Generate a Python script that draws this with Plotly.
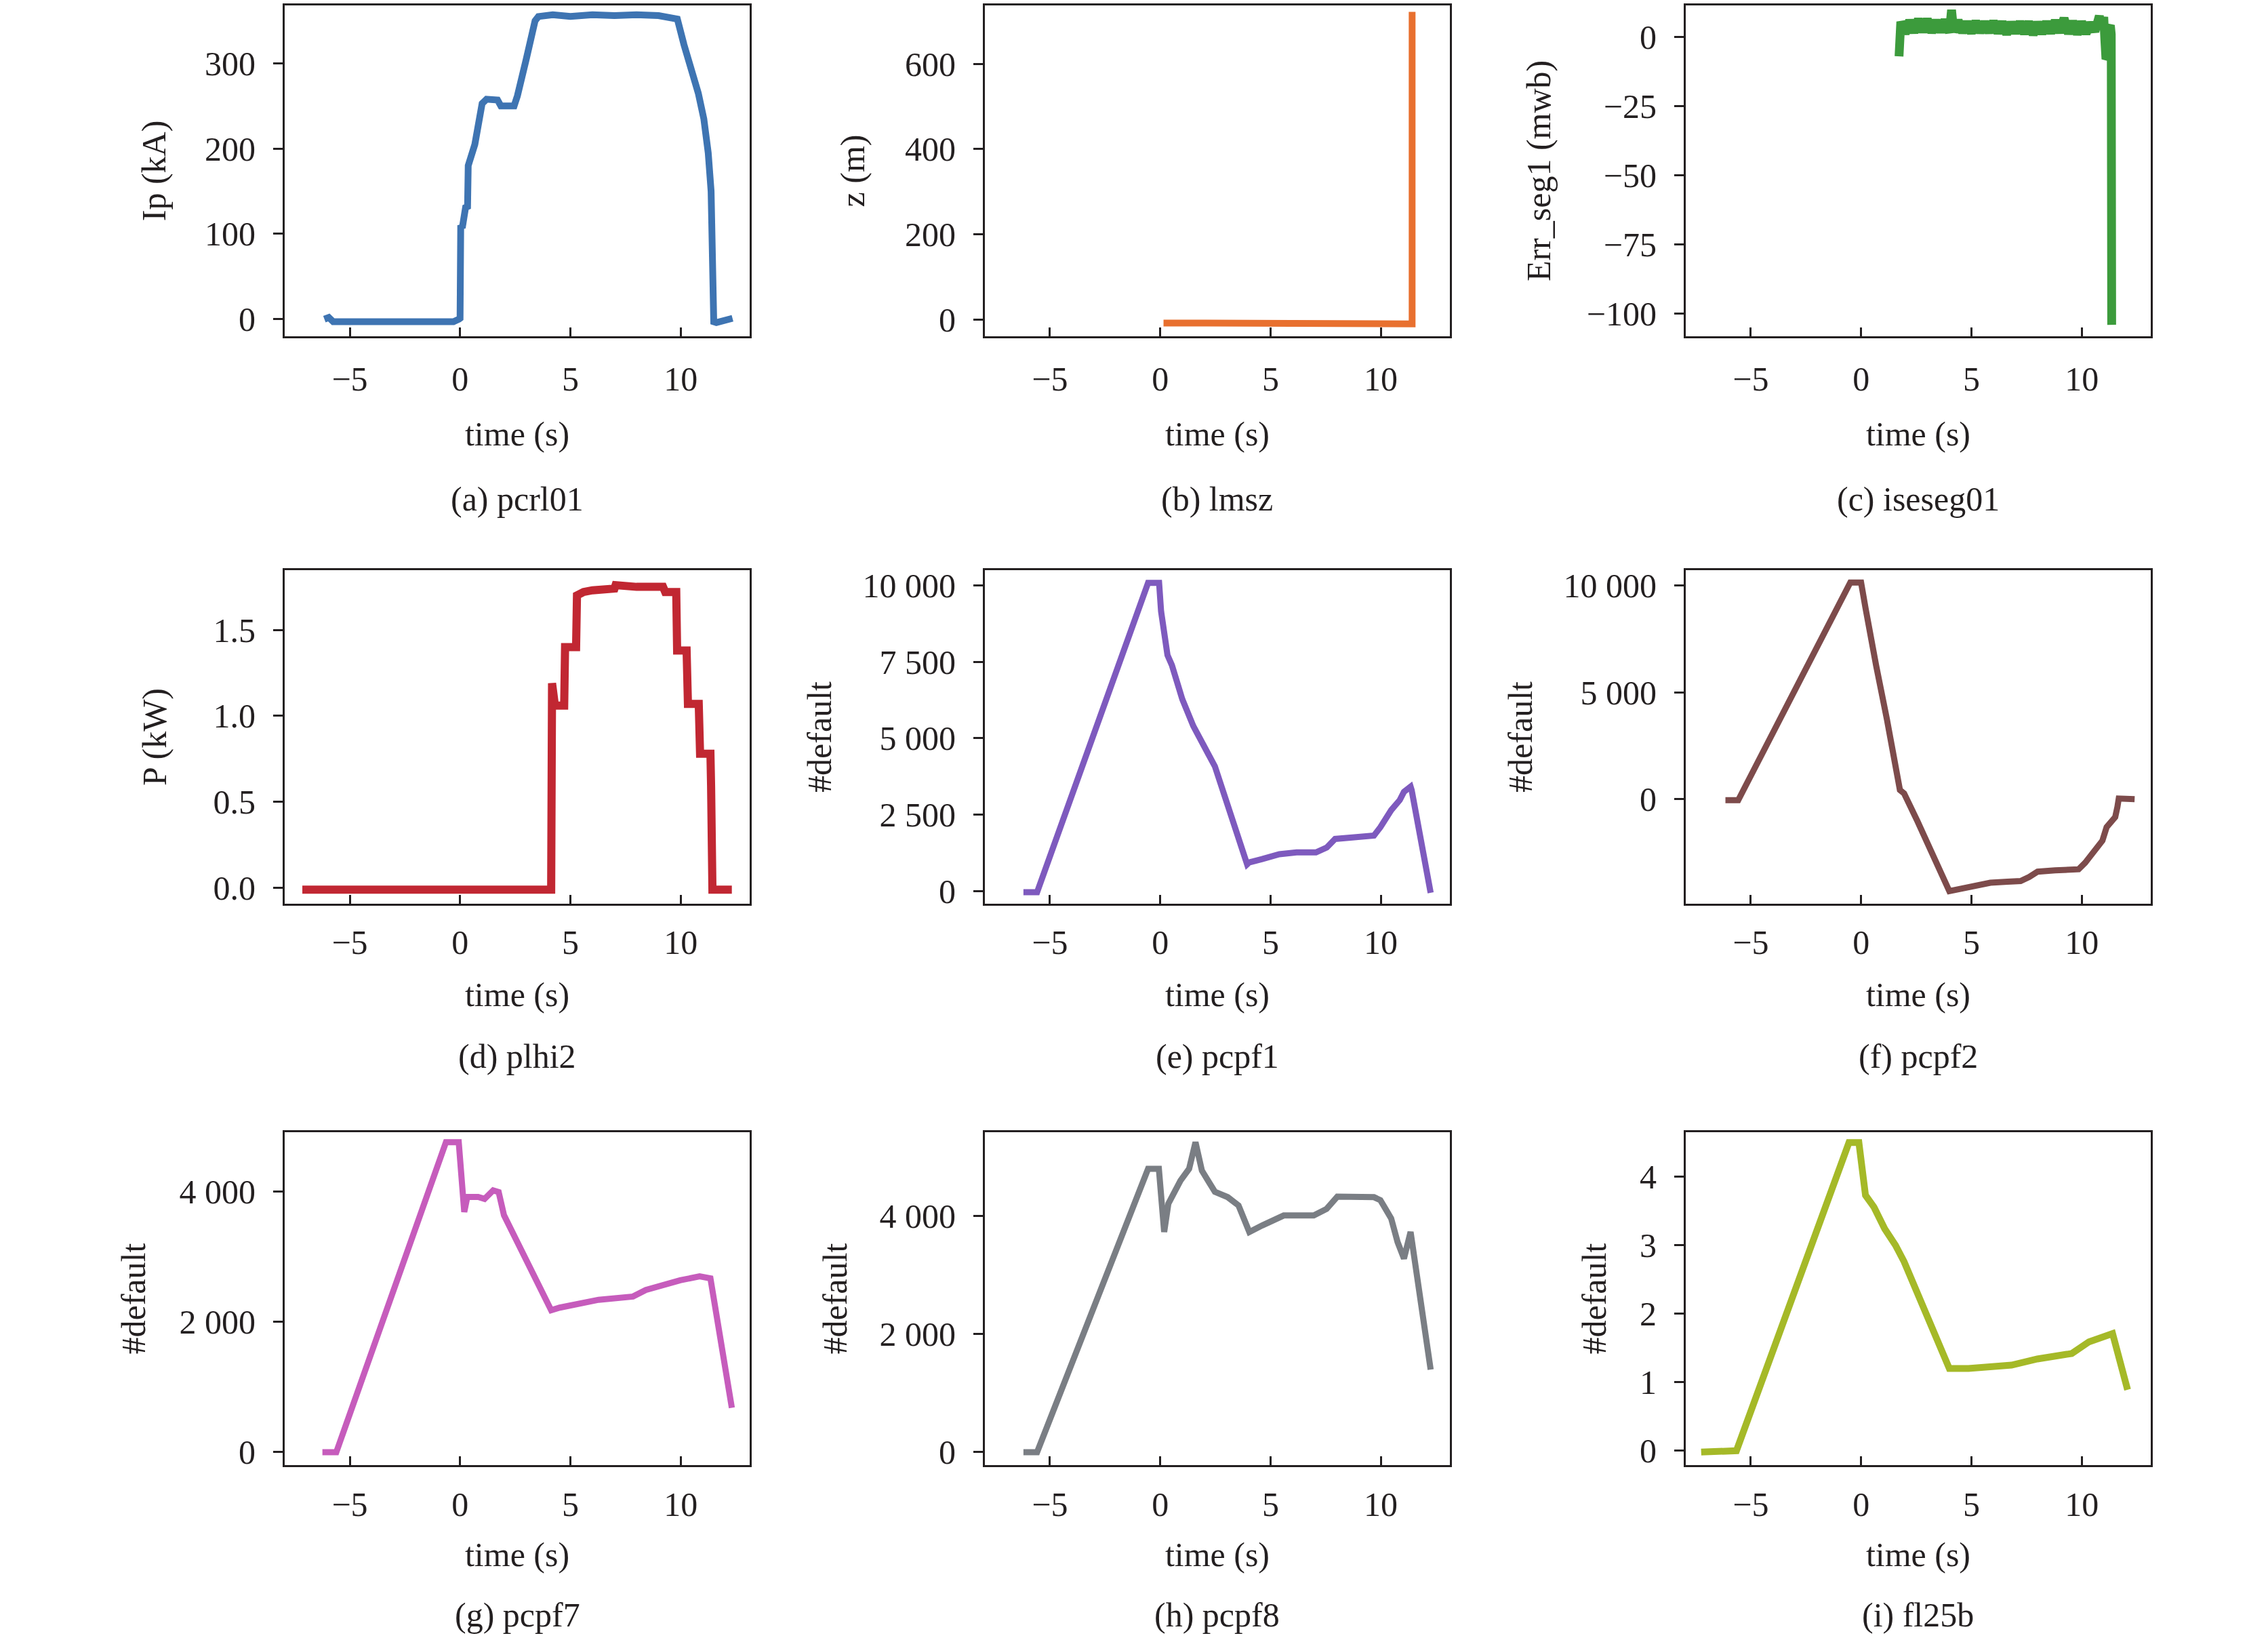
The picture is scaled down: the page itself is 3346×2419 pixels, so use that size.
import plotly.graph_objects as go

# ---------------- data ----------------
a_t = [-6.15, -5.95, -5.75, -5.5, -4.0, -2.5, -1.0, -0.3, -0.05, 0.0, 0.03, 0.1, 0.25, 0.34, 0.37, 0.5, 0.67,
       1.0, 1.2, 1.7, 1.85, 2.45, 2.6, 3.0, 3.4, 3.55, 4.2, 5.0, 6.0, 7.0, 8.0, 9.0, 9.85, 10.15, 10.45,
       10.8, 11.05, 11.25, 11.38, 11.45, 11.5, 11.62, 12.0, 12.35]
a_v = [0, 2, -3, -3, -4, -3, -4, -3, 0, 1, 110, 107, 131, 132, 180, 190, 205,
       253, 258, 257, 250, 250, 262, 305, 350, 355, 357, 355, 357, 356, 357, 356, 352, 322, 295,
       265, 235, 195, 150, 15, -3, -4, -2, 1]

b_t = [0.15, 11.38, 11.42, 11.42]
b_v = [-8, -8, -10, 722]

c_t = [1.72, 1.74, 1.8, 2.0, 2.2, 2.4, 2.6, 2.8, 3.0, 3.2, 3.4, 3.6, 3.8, 4.0, 4.1, 4.2, 4.4, 4.6, 4.8,
       5.0, 5.2, 5.4, 5.6, 5.8, 6.0, 6.2, 6.4, 6.6, 6.8, 7.0, 7.2, 7.4, 7.6, 7.8, 8.0, 8.2, 8.4, 8.6,
       8.8, 9.0, 9.2, 9.4, 9.6, 9.8, 10.0, 10.2, 10.4, 10.6, 10.8, 10.9, 11.0, 11.05, 11.1, 11.18,
       11.22, 11.3, 11.34, 11.36]
c_v = [-7, 3.5, 5.5, 1.2, 6.0, 1.6, 6.5, 1.8, 6.5, 1.6, 6.0, 1.8, 6.2, 1.6, 9.8, 1.8, 6.0, 1.6, 5.5,
       1.4, 5.7, 1.6, 5.5, 1.6, 5.7, 1.4, 5.5, 1.0, 5.3, 1.4, 5.5, 1.2, 5.5, 0.8, 5.3, 1.2, 5.5, 1.4,
       6.0, 1.6, 6.8, 1.2, 5.7, 1.0, 5.5, 1.2, 5.1, 2.0, 7.6, 3.0, 7.2, -1, -8, -7,
       3, 4.2, 1, -104]

d_t = [-7.15, 4.13, 4.17, 4.22, 4.3, 4.72, 4.76, 5.26, 5.3, 5.6, 6.0, 7.0, 7.05, 8.0, 9.2, 9.3, 9.8,
       9.84, 10.27, 10.33, 10.82, 10.88, 11.35, 11.38, 11.44, 12.32]
d_v = [-0.01, -0.01, 1.19, 1.06, 1.06, 1.06, 1.40, 1.40, 1.70, 1.72, 1.73, 1.74, 1.76, 1.75, 1.75,
       1.72, 1.72, 1.38, 1.38, 1.07, 1.07, 0.78, 0.78, 0.59, -0.01, -0.01]

e_t = [-6.2, -5.58, -0.55, -0.05, 0.04, 0.23, 0.33, 0.53, 1.0, 1.5, 2.0, 2.48, 3.94, 4.03, 4.62, 5.4,
       6.18, 7.06, 7.55, 7.93, 8.71, 9.69, 9.98, 10.47, 10.86, 11.05, 11.35, 11.4, 12.26]
e_v = [-30, -30, 10080, 10080, 9150, 8050, 7720, 7390, 6280, 5400, 4740, 4080, 880, 940, 1050, 1210,
       1270, 1270, 1430, 1710, 1760, 1820, 2090, 2650, 2980, 3250, 3420, 3300, -50]

f_t = [-6.15, -5.57, -0.49, 0.0, 0.2, 0.39, 0.68, 1.17, 1.46, 1.76, 1.95, 2.25, 2.54, 4.0, 4.3, 5.08,
       5.86, 6.64, 7.23, 7.62, 8.0, 8.79, 9.86, 10.16, 10.64, 10.94, 11.13, 11.52, 11.62, 11.68, 12.4]
f_v = [-50, -50, 10130, 10130, 8940, 8000, 6260, 3740, 2000, 430, 270, -360, -1000, -4300, -4230, -4070,
       -3910, -3860, -3830, -3640, -3390, -3330, -3280, -2970, -2260, -1940, -1310, -840, -360, 30, 0]

g_t = [-6.24, -5.61, -0.64, -0.06, 0.19, 0.33, 0.82, 1.11, 1.5, 1.75, 1.99, 4.13, 4.52, 6.28, 7.84,
       8.42, 9.98, 10.86, 11.35, 12.32]
g_v = [0, 0, 4760, 4760, 3690, 3920, 3920, 3890, 4020, 3995, 3640, 2180, 2220, 2340, 2390,
       2490, 2640, 2700, 2670, 680]

h_t = [-6.2, -5.58, -0.55, -0.06, 0.18, 0.37, 0.92, 1.31, 1.6, 1.89, 2.48, 3.06, 3.55, 4.04, 4.62,
       5.6, 6.96, 7.54, 8.03, 9.69, 9.98, 10.47, 10.76, 11.05, 11.35, 12.26]
h_v = [0, 0, 4800, 4800, 3730, 4210, 4600, 4800, 5250, 4770, 4410, 4320, 4180, 3730, 3840,
       4010, 4010, 4120, 4330, 4320, 4270, 3960, 3560, 3280, 3730, 1400]

i_t = [-7.25, -5.65, -0.55, -0.1, 0.2, 0.58, 1.07, 1.56, 1.95, 4.0, 4.87, 6.04, 6.82, 7.99, 9.55,
       10.33, 10.82, 11.3, 11.4, 12.08]
i_v = [-0.02, 0.0, 4.50, 4.50, 3.73, 3.56, 3.24, 3.0, 2.76, 1.2, 1.2, 1.24, 1.25, 1.34, 1.42,
       1.59, 1.64, 1.69, 1.71, 0.89]

x_tickvals = [-5, 0, 5, 10]
x_ticktext = ["\u22125", "0", "5", "10"]
x_title = "time (s)"

captions = ["(a) pcrl01", "(b) lmsz", "(c) iseseg01", "(d) plhi2", "(e) pcpf1",
            "(f) pcpf2", "(g) pcpf7", "(h) pcpf8", "(i) fl25b"]
y_titles = ["Ip (kA)", "z (m)", "Err_seg1 (mwb)", "P (kW)", "#default",
            "#default", "#default", "#default", "#default"]
y_tickvals = [[0, 100, 200, 300], [0, 200, 400, 600], [0, -25, -50, -75, -100],
              [0, 0.5, 1.0, 1.5], [0, 2500, 5000, 7500, 10000], [0, 5000, 10000],
              [0, 2000, 4000], [0, 2000, 4000], [0, 1, 2, 3, 4]]
y_ticktext = [["0", "100", "200", "300"], ["0", "200", "400", "600"],
              ["0", "\u221225", "\u221250", "\u221275", "\u2212100"],
              ["0.0", "0.5", "1.0", "1.5"], ["0", "2 500", "5 000", "7 500", "10 000"],
              ["0", "5 000", "10 000"], ["0", "2 000", "4 000"], ["0", "2 000", "4 000"],
              ["0", "1", "2", "3", "4"]]

series_t = [a_t, b_t, c_t, d_t, e_t, f_t, g_t, h_t, i_t]
series_v = [a_v, b_v, c_v, d_v, e_v, f_v, g_v, h_v, i_v]

# ---------------- styling ----------------
colors = ["#3e74b2", "#e8702f", "#3c9b3c", "#c12732", "#7e5abe",
          "#7d4b4b", "#c65cbc", "#7a7e84", "#a5b928"]
widths = [10, 10, 13, 12, 9, 9, 9, 9, 10]
x_range = [-7.95, 13.13]
y_ranges = [[-20, 368], [-39, 737], [-108.1, 11.4], [-0.092, 1.847], [-408, 10496],
            [-4890, 10710], [-199, 4913], [-219, 5419], [-0.21, 4.65]]

col_domains = [[0.0, 0.2492], [0.3752, 0.6244], [0.7508, 1.0]]
row_domains = [[0.7734, 1.0], [0.3846, 0.6131], [0.0, 0.228]]
row_x_labelstandoff = [17, 11, 12]
row_x_standoff = [37, 33, 29]
row_caption_y = [-0.492, -0.458, -0.45]
y_title_standoff = [42, 44, 38, 53, 30, 30, 34, 32, 34]

FONT = "Liberation Serif"
TXT = "#231f20"
FS = 50

fig = go.Figure()
layout = dict(
    width=3346, height=2419,
    margin=dict(l=420, r=173, t=3, b=258),
    paper_bgcolor="white", plot_bgcolor="white",
    showlegend=False,
    font=dict(family=FONT, size=FS, color=TXT),
    annotations=[],
)

for k in range(9):
    r, c = divmod(k, 3)
    sfx = "" if k == 0 else str(k + 1)
    fig.add_trace(go.Scatter(
        x=series_t[k], y=series_v[k], mode="lines",
        line=dict(color=colors[k], width=widths[k]),
        xaxis="x" + sfx, yaxis="y" + sfx, hoverinfo="skip",
    ))
    layout["xaxis" + sfx] = dict(
        domain=col_domains[c], anchor="y" + sfx, range=x_range,
        tickmode="array", tickvals=x_tickvals, ticktext=x_ticktext,
        ticks="inside", ticklen=13, tickwidth=3, tickcolor=TXT,
        showline=True, linewidth=3, linecolor=TXT, mirror=True,
        showgrid=False, zeroline=False,
        ticklabelstandoff=row_x_labelstandoff[r],
        tickfont=dict(family=FONT, size=FS, color=TXT),
        title=dict(text=x_title, standoff=row_x_standoff[r],
                   font=dict(family=FONT, size=FS, color=TXT)),
    )
    layout["yaxis" + sfx] = dict(
        domain=row_domains[r], anchor="x" + sfx, range=y_ranges[k],
        tickmode="array", tickvals=y_tickvals[k], ticktext=y_ticktext[k],
        ticks="outside", ticklen=14, tickwidth=3, tickcolor=TXT,
        showline=True, linewidth=3, linecolor=TXT, mirror=True,
        showgrid=False, zeroline=False,
        ticklabelstandoff=16,
        tickfont=dict(family=FONT, size=FS, color=TXT),
        title=dict(text=y_titles[k], standoff=y_title_standoff[k],
                   font=dict(family=FONT, size=FS, color=TXT)),
    )
    layout["annotations"].append(dict(
        text=captions[k], showarrow=False,
        xref="x" + sfx + " domain", yref="y" + sfx + " domain",
        x=0.5, y=row_caption_y[r], xanchor="center", yanchor="middle",
        font=dict(family=FONT, size=FS, color=TXT),
    ))

fig.update_layout(**layout)
fig.write_html("out.html", config={"displayModeBar": False},
               post_script="document.body.style.margin='0';")
